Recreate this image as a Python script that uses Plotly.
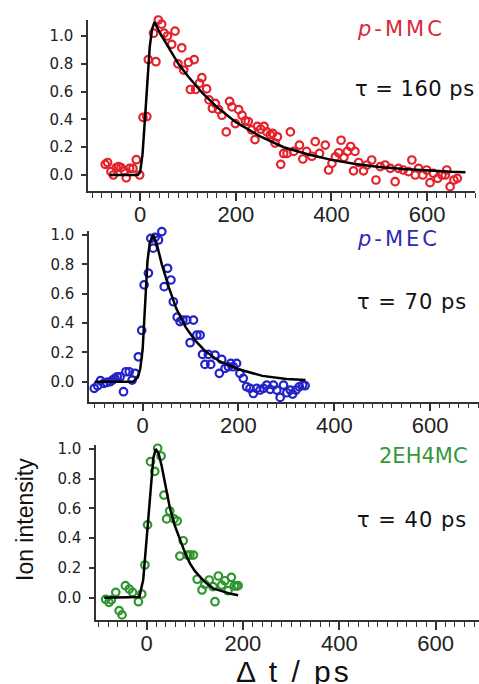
import plotly.graph_objects as go

W, H = 479, 684

# ---------------- data ----------------
mmc_t = [-73, -68, -61, -56, -50, -45, -40, -33, -29, -22, -15, -8, -1, 6, 14, 17, 28, 33, 38, 45,
         50, 57, 66, 73, 79, 87, 91, 101, 113, 105, 116, 129, 124, 139, 144, 151, 157, 164, 171, 180,
         187, 192, 199, 206, 213, 220, 226, 233, 240, 245, 252, 259, 265, 272, 277, 282, 287, 294, 300, 307,
         314, 321, 333, 340, 348, 359, 366, 375, 387, 394, 401, 408, 415, 420, 426, 433, 440, 449, 446, 457,
         467, 474, 484, 493, 502, 512, 523, 533, 540, 550, 561, 568, 575, 582, 591, 599, 606, 613, 622, 631,
         641, 638, 648, 656, 663]
mmc_i = [0.077, 0.09, 0.024, 0.0, 0.053, 0.06, 0.053, 0.03, -0.02, 0.048, 0.048, 0.11, 0.0, 0.415, 0.42, 0.83, 1.02, 0.815, 1.115, 1.085,
         1.02, 1.0, 0.94, 1.035, 0.80, 0.915, 0.755, 0.81, 0.83, 0.615, 0.615, 0.70, 0.66, 0.62, 0.54, 0.48, 0.515, 0.47, 0.43, 0.31,
         0.53, 0.49, 0.37, 0.47, 0.43, 0.39, 0.385, 0.325, 0.255, 0.35, 0.33, 0.35, 0.31, 0.29, 0.30, 0.23, 0.275, 0.077, 0.155, 0.155,
         0.31, 0.17, 0.215, 0.115, 0.17, 0.135, 0.24, 0.155, 0.215, 0.036, 0.084, 0.13, 0.16, 0.25, 0.127, 0.17, 0.205, 0.17, 0.03, 0.09,
         0.03, 0.072, 0.108, -0.036, 0.06, 0.072, 0.048, -0.048, 0.048, 0.036, 0.024, 0.108, 0.0, 0.048, 0.0, 0.036, -0.055, 0.012, -0.024, 0.0,
         0.036, 0.0, -0.084, -0.036, -0.024]
mmc_fit_t = [-64, -40, -20, -5, 0, 5, 10, 15, 20, 25, 30, 40, 60, 80, 100, 130, 160, 200, 250, 300,
             350, 400, 450, 500, 550, 600, 650, 680]
mmc_fit_i = [0.0, 0.0, 0.0, 0.0, 0.02, 0.15, 0.40, 0.68, 0.92, 1.05, 1.10, 1.03, 0.91, 0.80, 0.71, 0.59, 0.49, 0.38, 0.28, 0.20,
             0.149, 0.109, 0.079, 0.058, 0.043, 0.031, 0.023, 0.020]

mec_t = [-101, -94, -88, -81, -75, -68, -63, -58, -53, -47, -40, -35, -28, -22, -16, -9, -2, 3, 12, 17,
         22, 26, 33, 40, 45, 52, 59, 64, 72, 78, 84, 92, 99, 106, 113, 120, 125, 130, 137, 142,
         151, 160, 165, 172, 179, 184, 189, 196, 203, 210, 217, 224, 231, 238, 245, 252, 259, 266, 273, 280,
         287, 294, 301, 308, 313, 320, 327, 334, 339]
mec_i = [-0.045, -0.027, 0.007, -0.011, -0.005, 0.0, 0.011, 0.023, 0.034, 0.034, -0.068, 0.068, 0.068, 0.011, 0.057, 0.17, 0.35, 0.66, 0.74, 0.977,
         0.91, 0.984, 0.966, 1.023, 0.648, 0.773, 0.693, 0.545, 0.44, 0.41, 0.42, 0.42, 0.266, 0.42, 0.318, 0.318, 0.186, 0.118, 0.186, 0.118,
         0.182, 0.057, 0.152, 0.091, 0.102, 0.125, 0.102, 0.125, 0.057, 0.023, -0.034, -0.045, -0.08, -0.045, -0.057, -0.045, -0.023, -0.052, -0.023, -0.057,
         -0.107, -0.023, -0.075, -0.057, -0.084, -0.057, -0.034, -0.023, -0.027]
mec_fit_t = [-100, -40, -20, -10, -5, 0, 5, 10, 15, 22, 30, 40, 55, 70, 90, 110, 130, 160, 200, 250,
             300, 340]
mec_fit_i = [0.0, 0.0, 0.0, 0.03, 0.09, 0.22, 0.55, 0.82, 0.95, 1.0, 0.93, 0.80, 0.64, 0.50, 0.37, 0.28, 0.21, 0.14, 0.085, 0.04,
             0.019, 0.011]

eh_t = [-85, -78, -73, -64, -57, -51, -44, -36, -29, -17, -10, -3.5, 2, 8, 17, 23, 30, 36, 48, 41.5,
        57, 63.5, 76, 69, 85, 90, 97, 105, 115, 121, 130, 138, 142, 149, 156, 162.5, 169, 176, 182, 187,
        190]
eh_i = [-0.011, -0.031, -0.015, 0.036, -0.087, -0.116, 0.081, 0.058, 0.036, -0.027, 0.025, 0.22, 0.49, 0.915, 0.85, 1.005, 0.953, 0.69, 0.583, 0.53,
        0.53, 0.516, 0.383, 0.28, 0.287, 0.287, 0.287, 0.124, 0.052, 0.09, 0.119, 0.074, -0.027, 0.146, 0.085, 0.114, 0.047, 0.137, 0.079, 0.079,
        0.081]
eh_fit_t = [-88, -40, -15, -7, 0, 7, 14, 19, 25, 31, 40, 48, 58, 69, 80, 90, 100, 111, 125, 138,
            159, 175, 190]
eh_fit_i = [0.0, 0.0, 0.005, 0.12, 0.39, 0.72, 0.94, 1.0, 0.97, 0.89, 0.74, 0.61, 0.49, 0.39, 0.30, 0.23, 0.18, 0.14, 0.095, 0.063,
            0.04, 0.026, 0.016]

y_ticks = [0.0, 0.2, 0.4, 0.6, 0.8, 1.0]
x_ticks = [0, 200, 400, 600]

RED, BLUE, GREEN = "#e3222c", "#2323c8", "#2e962e"

# ---------------- figure ----------------
def px_x(p):
    return p / W

def px_y(p):
    return 1 - p / H

panels = [
    # (t, i, fit_t, fit_i, color, xdom px, ydom px, xrange, yrange)
    (mmc_t, mmc_i, mmc_fit_t, mmc_fit_i, RED, (88, 475), (191, 20), (-109, 700), (-0.115, 1.115)),
    (mec_t, mec_i, mec_fit_t, mec_fit_i, BLUE, (89, 479), (401.7, 231), (-112, 702), (-0.136, 1.027)),
    (eh_t, eh_i, eh_fit_t, eh_fit_i, GREEN, (96, 479), (620, 445), (-105, 690), (-0.15, 1.027)),
]

fig = go.Figure()
layout = dict(
    width=W, height=H,
    margin=dict(l=0, r=0, t=0, b=0),
    paper_bgcolor="white", plot_bgcolor="white",
    showlegend=False,
)

AXC = "#333333"
for k, (t, i, ft, fi, col, xd, yd, xr, yr) in enumerate(panels):
    sfx = "" if k == 0 else str(k + 1)
    fig.add_trace(go.Scatter(
        x=t, y=i, mode="markers", xaxis="x" + sfx, yaxis="y" + sfx,
        marker=dict(symbol="circle-open", size=7.5, color=col, line=dict(width=2.2, color=col)),
        cliponaxis=False,
    ))
    fig.add_trace(go.Scatter(
        x=ft, y=fi, mode="lines", xaxis="x" + sfx, yaxis="y" + sfx,
        line=dict(color="black", width=2.5), cliponaxis=False,
    ))
    layout["xaxis" + sfx] = dict(
        domain=[px_x(xd[0]), px_x(xd[1])], range=list(xr), anchor="y" + sfx,
        showgrid=False, zeroline=False, showline=True, linecolor=AXC, linewidth=1.5,
        ticks="outside", ticklen=8, tickwidth=1.5, tickcolor=AXC,
        tickvals=x_ticks, ticktext=[str(v) for v in x_ticks],
        minor=dict(dtick=20, tick0=0, ticks="outside", ticklen=5, tickwidth=1.2, tickcolor=AXC, showgrid=False),
        tickfont=dict(family="Liberation Sans, Arial", size=22, color="#222"),
        ticklabelstandoff=-5,
        automargin=False, fixedrange=True,
    )
    layout["yaxis" + sfx] = dict(
        domain=[px_y(yd[0]), px_y(yd[1])], range=list(yr), anchor="x" + sfx,
        showgrid=False, zeroline=False, showline=True, linecolor=AXC, linewidth=1.5,
        ticks="outside", ticklen=5, tickwidth=1.5, tickcolor=AXC,
        tickvals=y_ticks, tickformat=".1f",
        tickfont=dict(family="DejaVu Sans", size=15, color="#222"),
        ticklabelstandoff=5,
        automargin=False, fixedrange=True,
    )

fig.update_layout(**layout)

def ann(text, px, py, color, size=21, family="DejaVu Sans", angle=0, xanchor="left"):
    fig.add_annotation(
        text=text, x=px_x(px), y=px_y(py), xref="paper", yref="paper",
        xanchor=xanchor, yanchor="middle", showarrow=False, textangle=angle,
        font=dict(family=family, size=size, color=color),
    )

ann('<span style="letter-spacing:3px"><i>p</i>-MMC</span>', 355, 29, "#d8283a")
ann('<span style="letter-spacing:0.5px">τ = 160 ps</span>', 353, 89, "#111")
ann('<span style="letter-spacing:3px"><i>p</i>-MEC</span>', 355, 239, "#2a2ab4")
ann('<span style="letter-spacing:1px">τ = 70 ps</span>', 355, 302, "#111")
ann('2EH4MC', 377, 456, "#35983a")
ann('<span style="letter-spacing:1px">τ = 40 ps</span>', 355, 520, "#111")
ann('Ion intensity', 25, 520, "#111", size=23, family="Liberation Sans, Arial", angle=-90, xanchor="center")
ann('<span style="letter-spacing:3px">Δ t / ps</span>', 294, 671, "#111", size=30,
    family="Liberation Sans, Arial", xanchor="center")

# remove the browser's default 8px body margin so the figure fills the window exactly
fig.write_html("out.html", config={"displayModeBar": False},
               post_script="document.body.style.margin='0';")
